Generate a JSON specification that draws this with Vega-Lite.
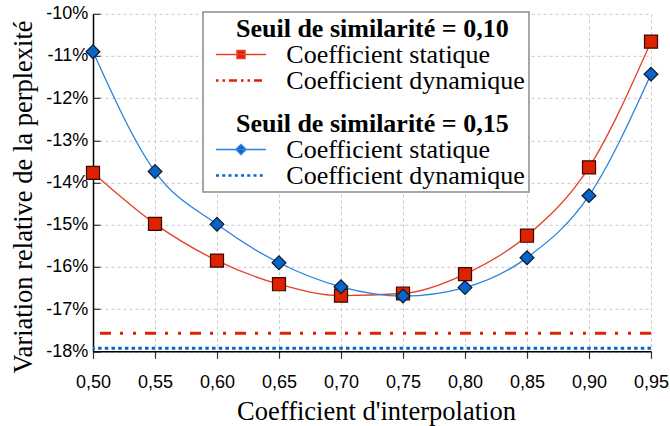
{
  "$schema": "https://vega.github.io/schema/vega-lite/v6.json",
  "width": 558,
  "height": 337.5,
  "autosize": {"type": "none"},
  "padding": {"left": 93, "top": 13.8, "right": 19, "bottom": 74.7},
  "background": "white",
  "datasets": {
    "static": [
      {"serie": "s10", "x": 0.50, "y": -13.77},
      {"serie": "s10", "x": 0.55, "y": -14.98},
      {"serie": "s10", "x": 0.60, "y": -15.85},
      {"serie": "s10", "x": 0.65, "y": -16.41},
      {"serie": "s10", "x": 0.70, "y": -16.68},
      {"serie": "s10", "x": 0.75, "y": -16.63},
      {"serie": "s10", "x": 0.80, "y": -16.17},
      {"serie": "s10", "x": 0.85, "y": -15.26},
      {"serie": "s10", "x": 0.90, "y": -13.64},
      {"serie": "s10", "x": 0.95, "y": -10.66},
      {"serie": "s15", "x": 0.50, "y": -10.90},
      {"serie": "s15", "x": 0.55, "y": -13.74},
      {"serie": "s15", "x": 0.60, "y": -14.99},
      {"serie": "s15", "x": 0.65, "y": -15.90},
      {"serie": "s15", "x": 0.70, "y": -16.47},
      {"serie": "s15", "x": 0.75, "y": -16.69},
      {"serie": "s15", "x": 0.80, "y": -16.49},
      {"serie": "s15", "x": 0.85, "y": -15.78},
      {"serie": "s15", "x": 0.90, "y": -14.31},
      {"serie": "s15", "x": 0.95, "y": -11.43}
    ],
    "dynamic": [
      {"serie": "d10", "y": -17.57},
      {"serie": "d15", "y": -17.93}
    ]
  },
  "config": {
    "view": {"stroke": null},
    "axis": {
      "grid": true,
      "gridColor": "#c8c8c8",
      "gridDash": [3, 3],
      "gridWidth": 1,
      "domainColor": "black",
      "domainWidth": 1.5,
      "tickColor": "#333333",
      "tickWidth": 1.2,
      "labelFont": "Liberation Sans",
      "labelFontSize": 18,
      "labelColor": "black",
      "titleFont": "Liberation Serif",
      "titleFontSize": 26.5,
      "titleFontWeight": "normal",
      "titleColor": "black",
      "labelFlush": false,
      "labelOverlap": false
    }
  },
  "layer": [
    {
      "data": {"name": "dynamic"},
      "transform": [{"filter": "datum.serie == 'd10'"}],
      "mark": {"type": "rule", "strokeWidth": 3, "strokeDash": [11, 9, 3, 10, 3, 9]},
      "encoding": {
        "y": {"field": "y", "type": "quantitative"},
        "color": {"field": "serie", "type": "nominal"}
      }
    },
    {
      "data": {"name": "dynamic"},
      "transform": [{"filter": "datum.serie == 'd15'"}],
      "mark": {"type": "rule", "strokeWidth": 3, "strokeDash": [3.5, 3.2]},
      "encoding": {
        "y": {"field": "y", "type": "quantitative"},
        "color": {"field": "serie", "type": "nominal"}
      }
    },
    {
      "data": {"name": "static"},
      "mark": {"type": "line", "interpolate": "monotone", "strokeWidth": 1.3},
      "encoding": {
        "x": {
          "field": "x", "type": "quantitative",
          "scale": {"domain": [0.5, 0.95], "nice": false, "zero": false},
          "axis": {
            "values": [0.5, 0.55, 0.6, 0.65, 0.7, 0.75, 0.8, 0.85, 0.9, 0.95],
            "labelExpr": "replace(format(datum.value, '.2f'), '.', ',')",
            "tickSize": 7,
            "labelPadding": 15,
            "title": "Coefficient d'interpolation",
            "titleBaseline": "alphabetic",
            "titleX": 283,
            "titleY": 68
          }
        },
        "y": {
          "field": "y", "type": "quantitative",
          "scale": {"domain": [-18, -10], "nice": false, "zero": false},
          "axis": {
            "values": [-18, -17, -16, -15, -14, -13, -12, -11, -10],
            "labelExpr": "datum.value + '%'",
            "tickSize": -7,
            "labelPadding": 12.3,
            "title": "Variation relative de la perplexité",
            "titleBaseline": "alphabetic",
            "titleAngle": -90,
            "titleAlign": "center",
            "titleX": -61.3,
            "titleY": 182.7
          }
        },
        "color": {
          "field": "serie", "type": "nominal",
          "scale": {
            "domain": ["t10", "s10", "d10", "gap", "t15", "s15", "d15"],
            "range": ["transparent", "#e5412a", "#dd2200", "transparent", "transparent", "#2a83dc", "#0a64c8"]
          },
          "legend": {
            "orient": "none",
            "legendX": 110,
            "legendY": -1.8,
            "title": null,
            "padding": 3.5,
            "symbolSize": 576,
            "symbolStrokeWidth": 1.5,
            "symbolOffset": 21.5,
            "labelOffset": 32.3,
            "rowPadding": 0,
            "labelFont": "Liberation Serif",
            "labelFontSize": 26,
            "labelColor": "black",
            "labelLimit": 600,
            "labelExpr": "datum.value == 't10' ? 'Seuil de similarité = 0,10' : datum.value == 't15' ? 'Seuil de similarité = 0,15' : datum.value == 'gap' ? '' : (datum.value == 's10' || datum.value == 's15') ? 'Coefficient statique' : 'Coefficient dynamique\u00a0\u00a0'",
            "encode": {
              "legend": {"update": {"fill": {"value": "white"}, "stroke": {"value": "#8a8a8a"}, "strokeWidth": {"value": 1.5}}},
              "symbols": {
                "update": {
                  "shape": {"signal": "(datum.value == 's10' ? 'M-2.083,0H2.083M-0.333,-0.333H0.333V0.333H-0.333Z' : datum.value == 's15' ? 'M-2.083,0H2.083M0,-0.417L0.417,0L0,0.417L-0.417,0Z' : (datum.value == 'd10' || datum.value == 'd15') ? 'M-2.083,-0.05H2.083M-2.083,0.05H2.083' : 'M0,-1L0,-1')"},
                  "stroke": {"signal": "(datum.value == 's10' ? '#e5412a' : datum.value == 'd10' ? '#dd2200' : datum.value == 's15' ? '#2a83dc' : datum.value == 'd15' ? '#0a64c8' : 'transparent')"},
                  "fill": {"signal": "(datum.value == 's10' ? '#dd2200' : datum.value == 's15' ? '#0a64c8' : 'transparent')"},
                  "strokeDash": {"signal": "(datum.value == 'd10' ? [2.5, 4, 2.5, 4, 8, 4] : datum.value == 'd15' ? [3, 3.25] : [1, 0])"},
                  "opacity": {"value": 1}
                }
              },
              "labels": {
                "update": {
                  "fontWeight": {"signal": "((datum.value == 't10' || datum.value == 't15') ? 'bold' : 'normal')"},
                  "dx": {"signal": "((datum.value == 't10' || datum.value == 't15') ? -50.3 : 0)"},
                  "fontSize": {"signal": "(datum.value == 'gap' ? 1 : 26)"}
                }
              }
            }
          }
        }
      }
    },
    {
      "data": {"name": "static"},
      "transform": [{"filter": "datum.serie == 's10'"}],
      "mark": {"type": "point", "shape": "square", "filled": true, "fill": "#dd2200", "stroke": "#3a0800", "strokeWidth": 1.2, "size": 170, "opacity": 1},
      "encoding": {
        "x": {"field": "x", "type": "quantitative"},
        "y": {"field": "y", "type": "quantitative"}
      }
    },
    {
      "data": {"name": "static"},
      "transform": [{"filter": "datum.serie == 's15'"}],
      "mark": {"type": "point", "shape": "diamond", "filled": true, "fill": "#0a64c8", "stroke": "#0a1a30", "strokeWidth": 1.2, "size": 190, "opacity": 1},
      "encoding": {
        "x": {"field": "x", "type": "quantitative"},
        "y": {"field": "y", "type": "quantitative"}
      }
    }
  ]
}
